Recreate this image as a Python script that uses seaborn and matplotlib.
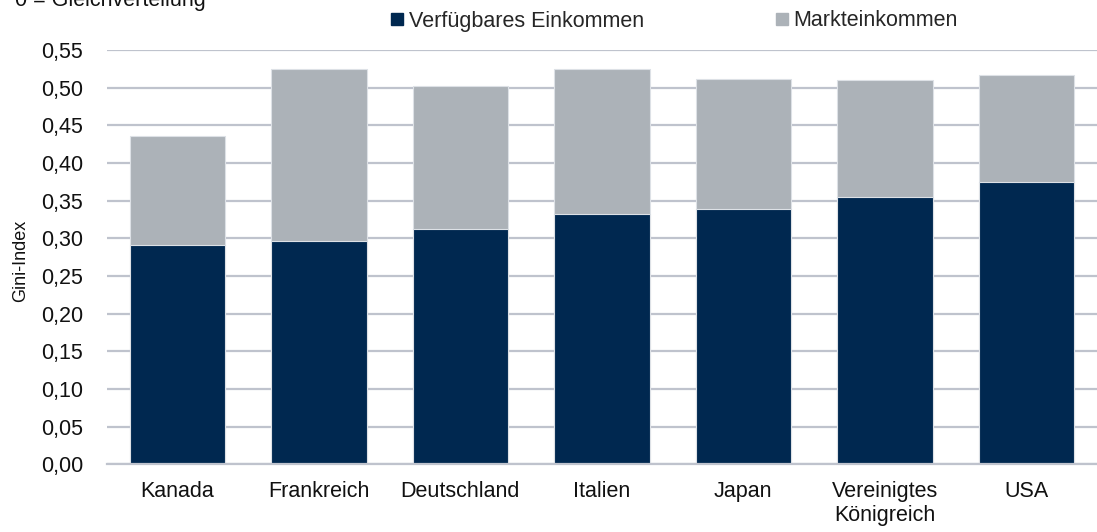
import matplotlib
matplotlib.use("Agg")
import matplotlib.pyplot as plt
import seaborn as sns
import pandas as pd
from matplotlib.lines import Line2D
from matplotlib.ticker import FixedLocator, FuncFormatter

countries = ["Kanada", "Frankreich", "Deutschland", "Italien", "Japan",
             "Vereinigtes\nKönigreich", "USA"]
markteinkommen = [0.436, 0.525, 0.502, 0.525, 0.512, 0.510, 0.517]
verfuegbar = [0.291, 0.297, 0.313, 0.332, 0.339, 0.355, 0.375]
yticks = [0.00, 0.05, 0.10, 0.15, 0.20, 0.25, 0.30, 0.35, 0.40, 0.45, 0.50, 0.55]

NAVY = "#002850"
GRAY = "#ACB2B8"
GRID = "#BFC3CD"

sns.set_theme(style="white")
plt.rcParams["font.family"] = ["Liberation Sans", "DejaVu Sans"]

df = pd.DataFrame({"Land": countries, "Markt": markteinkommen, "Verf": verfuegbar})

fig = plt.figure(figsize=(10.97, 5.32), dpi=100)
ax = fig.add_axes([0.0973, 0.1273, 0.9027, 0.906 - 0.1273])

sns.barplot(data=df, x="Land", y="Markt", color=GRAY, width=0.675,
            edgecolor="#DDE1E6", linewidth=0.8, saturation=1, ax=ax, zorder=2)
sns.barplot(data=df, x="Land", y="Verf", color=NAVY, width=0.675,
            edgecolor="#DDE1E6", linewidth=0.8, saturation=1, ax=ax, zorder=3)

ax.set_ylim(0, 0.55)
ax.set_xlim(-0.5, len(countries) - 0.5)
ax.set_yticks(yticks)
ax.yaxis.set_major_formatter(FuncFormatter(lambda v, p: f"{v:.2f}".replace(".", ",")))
ax.grid(axis="y", color=GRID, linewidth=1.6, zorder=0)
ax.set_axisbelow(True)
for s in ["top", "right", "left"]:
    ax.spines[s].set_visible(False)
ax.spines["bottom"].set_color(GRID)
ax.spines["bottom"].set_linewidth(1.6)
ax.spines["bottom"].set_zorder(4)

ax.tick_params(axis="y", length=0, pad=17, labelsize=15.5, labelcolor="#111111")
ax.tick_params(axis="x", which="major", length=0, pad=12, labelsize=15.5, labelcolor="#111111")
ax.xaxis.set_minor_locator(FixedLocator([i - 0.5 for i in range(len(countries) + 1)]))
ax.tick_params(axis="x", which="minor", length=6, width=1.6, color=GRID, direction="out")
ax.set_xlabel("")
ax.set_ylabel("Gini-Index", fontsize=13, color="#111111")
ax.yaxis.set_label_coords(-(107 - 29) / (0.9027 * 1097), 0.49)

handles = [
    Line2D([], [], marker="s", linestyle="none", markersize=9, markerfacecolor=NAVY,
           markeredgecolor=NAVY, label="Verfügbares Einkommen"),
    Line2D([], [], marker="s", linestyle="none", markersize=9, markerfacecolor=GRAY,
           markeredgecolor=GRAY, label="Markteinkommen"),
]
fig.legend(handles=handles, loc="center", bbox_to_anchor=(673 / 1097, 1 - 21 / 532),
           ncol=2, frameon=False, fontsize=15.5, handletextpad=0.15,
           columnspacing=6.0, handlelength=0.8)

fig.text(15 / 1097, 1 - 6 / 532, "0 = Gleichverteilung", fontsize=15.5,
         va="baseline", ha="left", color="#111111")

fig.savefig("out.png", dpi=100)
